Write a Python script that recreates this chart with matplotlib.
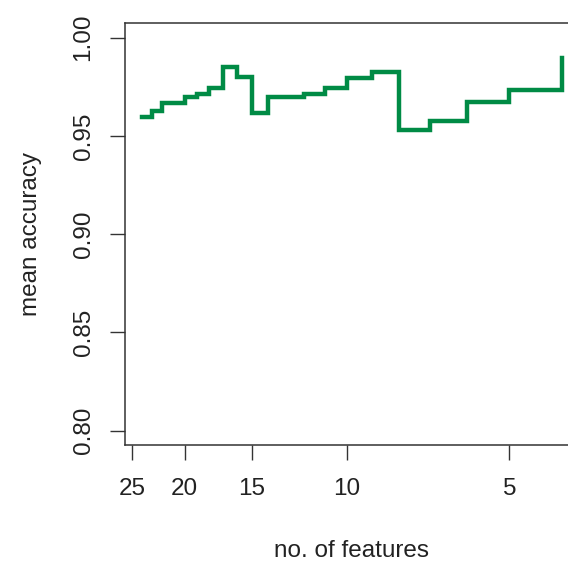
import numpy as np
import matplotlib
matplotlib.use("Agg")
import matplotlib.pyplot as plt

# počet příznaků (osa x, obrácená, logaritmická)
n_features = [24, 23, 22, 21, 20, 19, 18, 17, 16, 15, 14,
              13, 12, 11, 10, 9, 8, 7, 6, 5, 4]

# průměrná přesnost
mean_acc = [0.9598, 0.9627, 0.9666, 0.9666, 0.9700, 0.9713, 0.9746,
            0.9852, 0.9798, 0.9618, 0.9697, 0.9697, 0.9713, 0.9746,
            0.9793, 0.9824, 0.9530, 0.9576, 0.9674, 0.9734, 0.9898]

x_ticks = [25, 20, 15, 10, 5]
y_ticks = [0.80, 0.85, 0.90, 0.95, 1.00]

plt.rcParams["font.family"] = ["Liberation Sans", "DejaVu Sans"]

fig = plt.figure(figsize=(5.68, 5.63), dpi=100)
ax = fig.add_axes([0.2201, 0.2096, 0.7981, 0.7496])

ax.plot(n_features, mean_acc, color="#008B45", lw=3.2,
        drawstyle="steps-post", solid_joinstyle="miter")

ax.set_xscale("log")
ax.set_xlim(25.79, 3.723)
ax.set_ylim(0.7927, 1.0075)

ax.set_xticks(x_ticks)
ax.set_xticklabels([str(t) for t in x_ticks])
ax.xaxis.set_minor_locator(matplotlib.ticker.NullLocator())
ax.set_yticks(y_ticks)
ax.set_yticklabels([f"{t:.2f}" for t in y_ticks], rotation=90, va="center")

ax.tick_params(axis="both", direction="out", length=10.5, width=1.0,
               color="#333333", labelsize=17.5, labelcolor="#222222")
ax.tick_params(axis="x", pad=13.5)
ax.tick_params(axis="y", pad=11.4)
for s in ax.spines.values():
    s.set_color("#333333")
    s.set_linewidth(1.1)

ax.set_xlabel("no. of features", fontsize=17.5, color="#222222", va="baseline")
ax.set_ylabel("mean accuracy", fontsize=17.5, color="#222222", va="baseline")
ax.xaxis.set_label_coords(0.5, -0.2654)
ax.yaxis.set_label_coords(-0.1941, 0.5)

plt.savefig("out.png", dpi=100)
